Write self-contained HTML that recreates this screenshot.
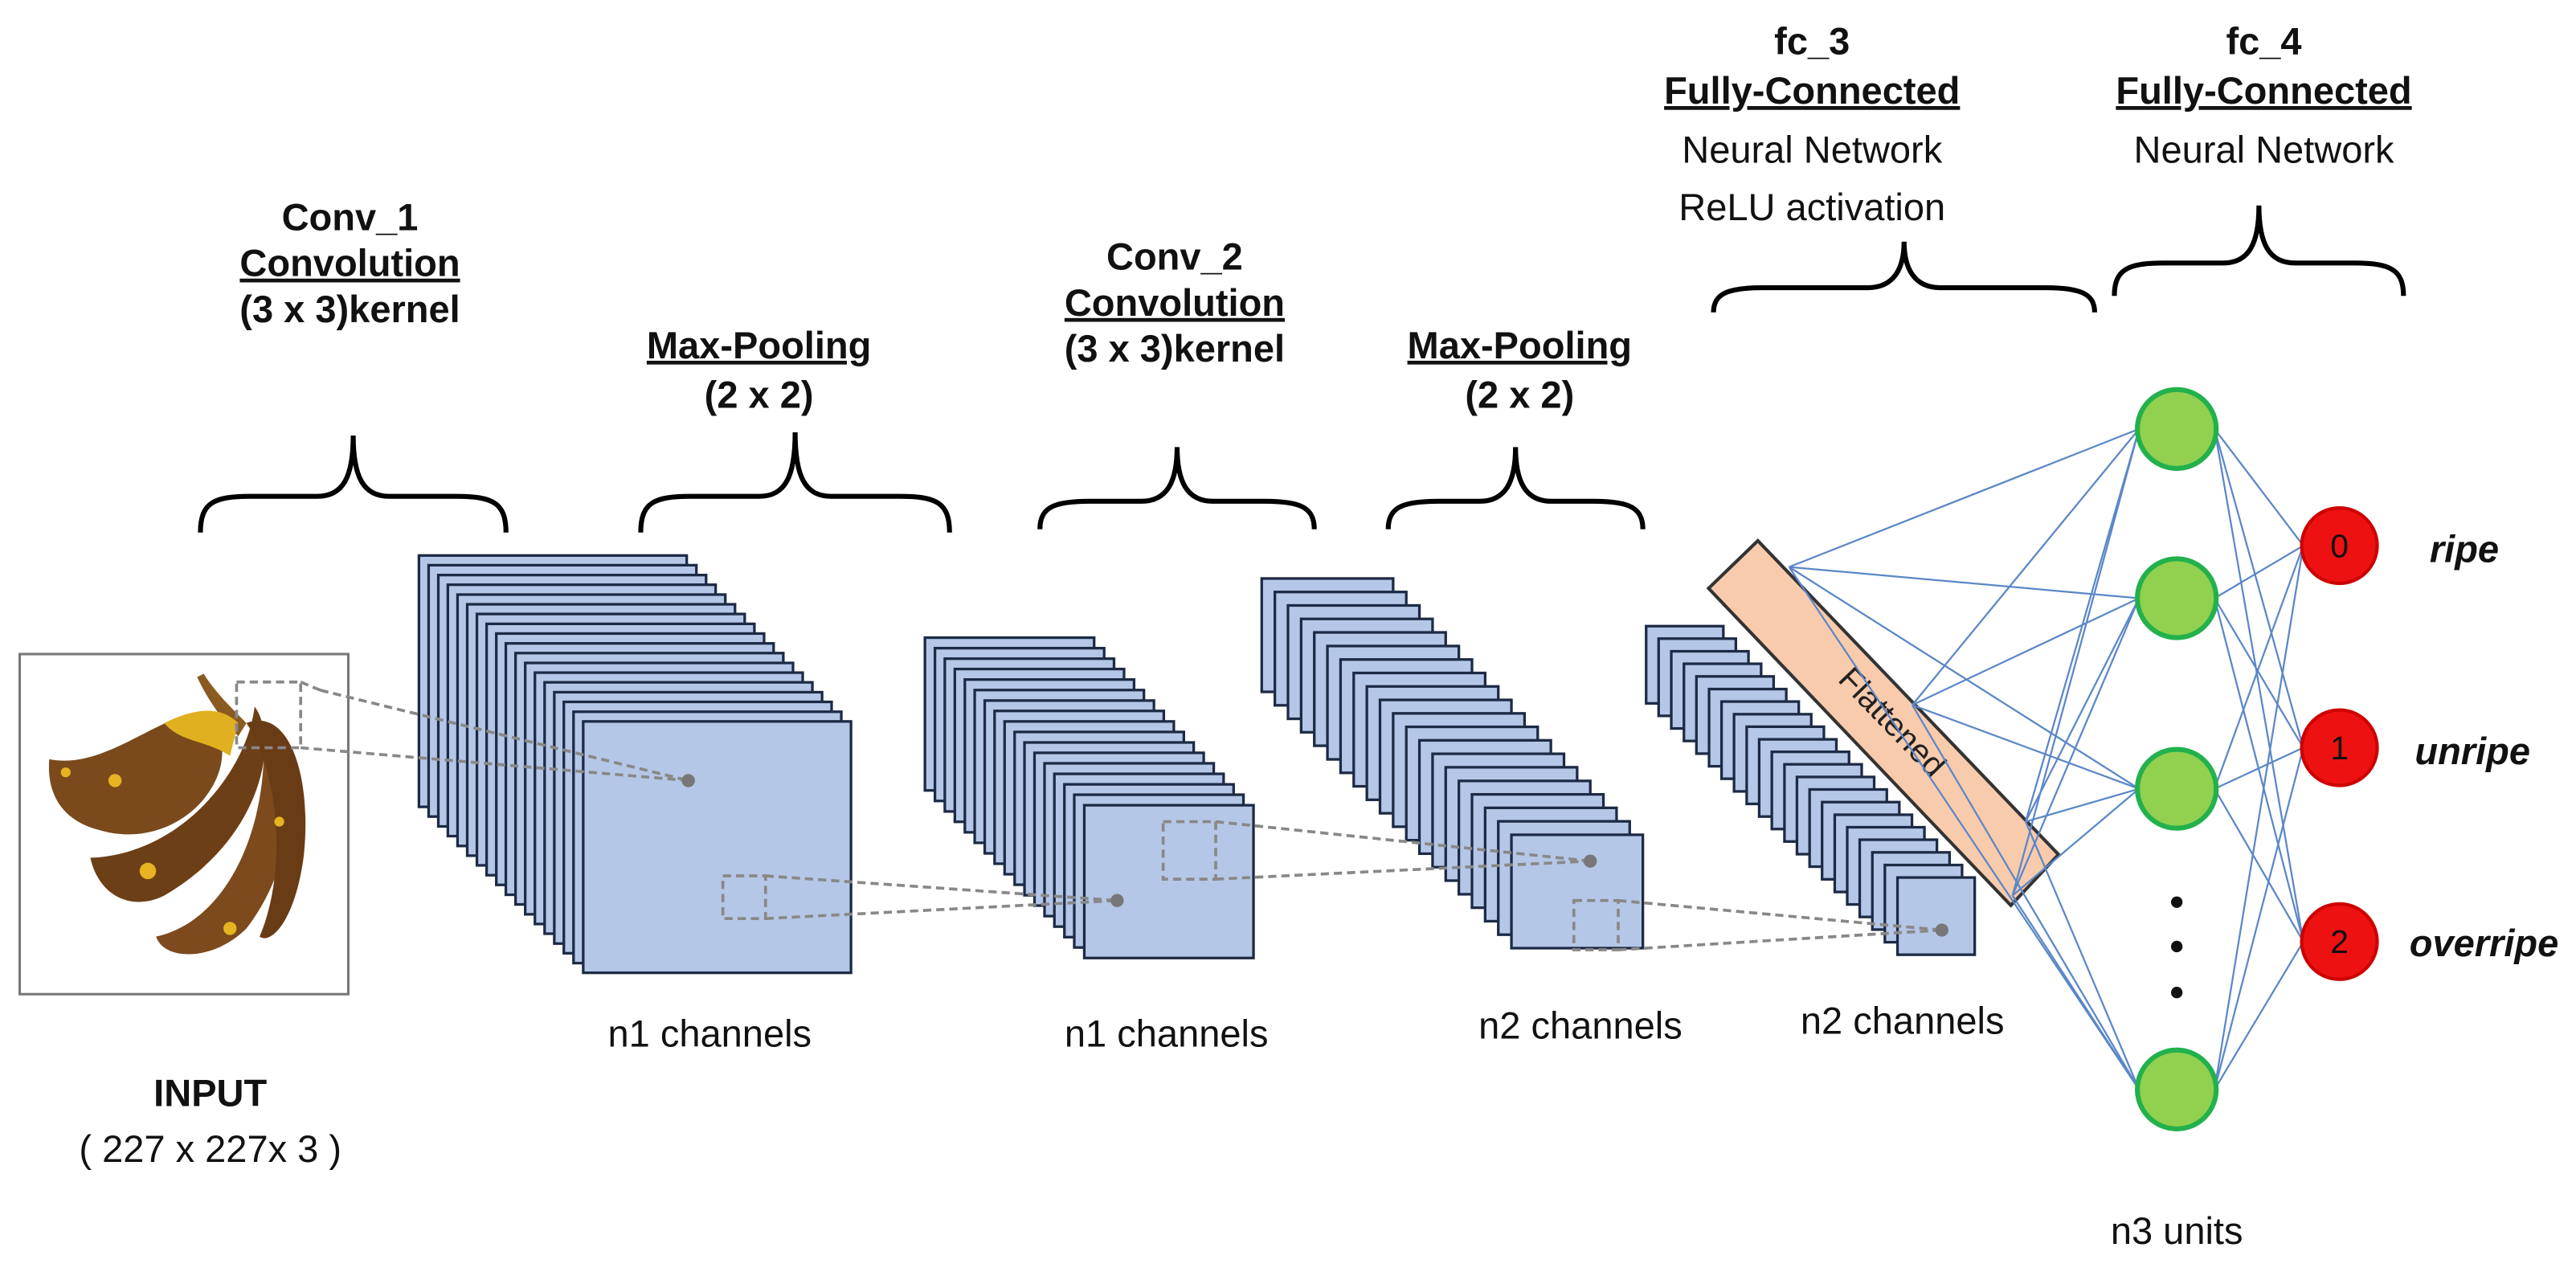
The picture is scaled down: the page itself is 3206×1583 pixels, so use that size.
<!DOCTYPE html>
<html><head><meta charset="utf-8"><style>
html,body{margin:0;padding:0;background:#fff;}
svg{display:block;}
text{font-family:"Liberation Sans",sans-serif;fill:#111;}
.b{font-weight:bold;}
</style></head><body>
<svg id="s" width="3206" height="1583" viewBox="0 0 1568 774" xmlns="http://www.w3.org/2000/svg">
<rect width="1568" height="774" fill="#fff"/>
<g id="g"></g>
<g font-size="23" text-anchor="middle">
<text x="213" y="140" class="b">Conv_1</text>
<text x="213" y="168" class="b" text-decoration="underline">Convolution</text>
<text x="213" y="196" class="b">(3 x 3)kernel</text>
<text x="462" y="218" class="b" text-decoration="underline">Max-Pooling</text>
<text x="462" y="248" class="b">(2 x 2)</text>
<text x="715" y="164" class="b">Conv_2</text>
<text x="715" y="192" class="b" text-decoration="underline">Convolution</text>
<text x="715" y="220" class="b">(3 x 3)kernel</text>
<text x="925" y="218" class="b" text-decoration="underline">Max-Pooling</text>
<text x="925" y="248" class="b">(2 x 2)</text>
<text x="1103" y="33" class="b">fc_3</text>
<text x="1103" y="63" class="b" text-decoration="underline">Fully-Connected</text>
<text x="1103" y="99">Neural Network</text>
<text x="1103" y="134">ReLU activation</text>
<text x="1378" y="33" class="b">fc_4</text>
<text x="1378" y="63" class="b" text-decoration="underline">Fully-Connected</text>
<text x="1378" y="99">Neural Network</text>
<text x="128" y="673" class="b">INPUT</text>
<text x="128" y="707">( 227 x 227x 3 )</text>
<text x="432" y="637">n1 channels</text>
<text x="710" y="637">n1 channels</text>
<text x="962" y="632">n2 channels</text>
<text x="1158" y="629">n2 channels</text>
<text x="1325" y="757">n3 units</text>
<text x="1500" y="342" class="b" font-style="italic">ripe</text>
<text x="1505" y="465" class="b" font-style="italic">unripe</text>
<text x="1512" y="582" class="b" font-style="italic">overripe</text>
</g>
</svg>
<script>
var g=document.getElementById('g'),h='';
function brace(x1,x2,t,a,b){var m=(x1+x2)/2;return '<path d="M'+x1+','+b+' C'+x1+','+(a+4)+' '+(x1+8)+','+a+' '+(x1+30)+','+a+' L'+(m-22)+','+a+' C'+(m-6)+','+a+' '+m+','+(a-12)+' '+m+','+t+' C'+m+','+(a-12)+' '+(m+6)+','+a+' '+(m+22)+','+a+' L'+(x2-30)+','+a+' C'+(x2-8)+','+a+' '+x2+','+(a+4)+' '+x2+','+b+'" fill="none" stroke="#000" stroke-width="3"/>';}
h+=brace(122,308,265,302,324)+brace(390,578,263,302,324)+brace(633,800,272,305,322)+brace(845,1000,272,305,322)+brace(1043,1275,147,175,190)+brace(1287,1463,125,160,180);
h+='<rect x="12" y="398" width="200" height="207" fill="#fff" stroke="#777" stroke-width="1.5"/>';
h+='<path d="M30,462 C70,470 110,420 130,440 C150,470 110,520 60,505 C40,500 28,485 30,462Z" fill="#7a4a1c"/>';
h+='<path d="M55,522 C110,520 150,470 155,430 C170,450 160,510 100,545 C80,555 60,545 55,522Z" fill="#6d3f17"/>';
h+='<path d="M95,570 C140,560 165,500 160,440 C180,460 185,520 150,565 C130,585 100,585 95,570Z" fill="#7c4a1d"/>';
h+='<path d="M150,440 C175,430 190,470 185,520 C180,560 165,575 158,570 C175,530 170,470 150,440Z" fill="#6a3c15"/>';
h+='<path d="M124,410 C130,420 140,430 150,440 L145,448 C135,438 126,425 120,412Z" fill="#8a5a20"/>';
h+='<path d="M100,440 C120,430 135,430 145,440 L140,460 C125,450 110,452 100,440Z" fill="#e0b020"/>';
h+='<circle cx="70" cy="475" r="4" fill="#e6b420"/><circle cx="90" cy="530" r="5" fill="#e6b420"/><circle cx="140" cy="565" r="4" fill="#e6b420"/><circle cx="170" cy="500" r="3" fill="#e6b420"/><circle cx="40" cy="470" r="3" fill="#e6b420"/>';
function stack(bx,by,fx,fy,w,hh,n){var s='';for(var i=0;i<n;i++){var t=i/(n-1);var x=bx+(fx-bx)*t,y=by+(fy-by)*t;s+='<rect x="'+x.toFixed(1)+'" y="'+y.toFixed(1)+'" width="'+w+'" height="'+hh+'" fill="#b4c7e7" stroke="#1c2a44" stroke-width="1.6"/>';}return s;}
h+=stack(255,338,355,439,163,153,18);
h+=stack(563,388,660,490,103,93,17);
h+=stack(768,352,920,508,80,69,20);
h+=stack(1002,381,1155,534,47,47,21);
var d='stroke="#888" stroke-width="1.8" stroke-dasharray="5,3" fill="none"';
h+='<rect x="144" y="415" width="39" height="40" '+d+'/><path d="M183,415 L195,420 M195,420 L419,475 M183,455 L419,475" '+d+'/><circle cx="419" cy="475" r="4" fill="#777"/>';
h+='<rect x="440" y="533" width="26" height="26" '+d+'/><path d="M466,533 L680,548 M466,559 L680,548" '+d+'/><circle cx="680" cy="548" r="4" fill="#777"/>';
h+='<rect x="708" y="500" width="32" height="35" '+d+'/><path d="M740,500 L968,524 M740,535 L968,524" '+d+'/><circle cx="968" cy="524" r="4" fill="#777"/>';
h+='<rect x="958" y="548" width="27" height="30" '+d+'/><path d="M985,548 L1182,566 M985,578 L1182,566" '+d+'/><circle cx="1182" cy="566" r="4" fill="#777"/>';
h+='<polygon points="1040,358 1070,329 1253,520 1224,551" fill="#f8cbad" stroke="#333" stroke-width="2"/>';
h+='<text x="1147" y="444" font-size="20" text-anchor="middle" transform="rotate(46 1147 444)" style="fill:#222">Flattened</text>';
var G=[261,364,480,663],R=[332,455,573],P=[[1089,345],[1164,429],[1233,500],[1225,545]];
var l='stroke="#5b87c7" stroke-width="1.1"';
P.forEach(function(p){G.forEach(function(y){h+='<line x1="'+p[0]+'" y1="'+p[1]+'" x2="1302" y2="'+y+'" '+l+'/>';});});
G.forEach(function(y){R.forEach(function(r){h+='<line x1="1348" y1="'+y+'" x2="1402" y2="'+r+'" '+l+'/>';});});
G.forEach(function(y){h+='<ellipse cx="1325" cy="'+y+'" rx="24" ry="24" fill="#92d050" stroke="#22b14c" stroke-width="3"/>';});
[549,576,604].forEach(function(y){h+='<circle cx="1325" cy="'+y+'" r="3.5" fill="#111"/>';});
R.forEach(function(y,i){h+='<circle cx="1424" cy="'+y+'" r="23" fill="#ee1111" stroke="#cc0000" stroke-width="2"/><text x="1424" y="'+(y+7)+'" font-size="20" text-anchor="middle">'+i+'</text>';});
g.innerHTML=h;
</script>
</body></html>
